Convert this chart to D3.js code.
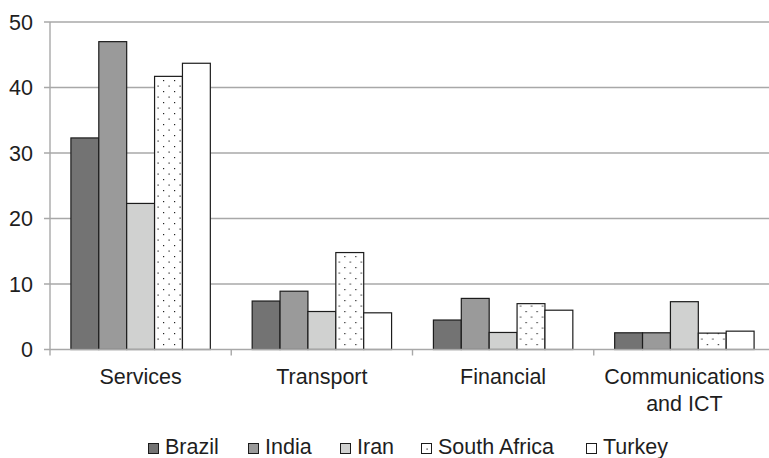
<!DOCTYPE html>
<html>
<head>
<meta charset="utf-8">
<script src="https://cdn.jsdelivr.net/npm/d3@7"></script>
<style>
  html, body { margin: 0; padding: 0; background: #fff; }
  svg { display: block; font-family: "Liberation Sans", Arial, sans-serif; }
</style>
</head>
<body>
<svg id="chart" width="769" height="458"></svg>
<script>
// Sector shares by country
const categories = ["Services", "Transport", "Financial", "Communications\nand ICT"];
const countries = ["Brazil", "India", "Iran", "South Africa", "Turkey"];
const brazil      = [32.3, 7.4, 4.5, 2.55];
const india       = [47.0, 8.9, 7.8, 2.55];
const iran        = [22.3, 5.8, 2.6, 7.3];
const southAfrica = [41.7, 14.8, 7.0, 2.5];
const turkey      = [43.7, 5.6, 6.0, 2.8];
const yTicks = [0, 10, 20, 30, 40, 50];

const seriesValues = [brazil, india, iran, southAfrica, turkey];
const fills = ["#737373", "#9a9a9a", "#d0d1d0", "url(#dots)", "#ffffff"];

const svg = d3.select("#chart");
const margin = { left: 50, right: -6, top: 22, bottom: 108.5 };
const W = 769, H = 458;
const x0 = margin.left, x1 = W - margin.right;
const yTop = margin.top, yBot = H - margin.bottom;

// Dotted fill used for South Africa
const defs = svg.append("defs");
const pat = defs.append("pattern")
  .attr("id", "dots").attr("patternUnits", "userSpaceOnUse")
  .attr("width", 11).attr("height", 11);
pat.append("rect").attr("width", 11).attr("height", 11).attr("fill", "#fff");
pat.append("rect").attr("x", 3).attr("y", 3).attr("width", 1.2).attr("height", 1.2).attr("fill", "#222");
pat.append("rect").attr("x", 8.5).attr("y", 8.5).attr("width", 1.2).attr("height", 1.2).attr("fill", "#222");

const y = d3.scaleLinear().domain([0, 50]).range([yBot, yTop]);
const xCat = d3.scaleBand().domain(d3.range(categories.length)).range([x0, x1])
  .paddingInner(0).paddingOuter(0);
// Gap between clusters is 1.5 bar widths
const barW = xCat.bandwidth() / (countries.length + 1.5);
const xSer = d3.scaleBand().domain(d3.range(countries.length))
  .range([0.75 * barW, xCat.bandwidth() - 0.75 * barW]).padding(0);

const gridColor = "#a8a8a8";

// Horizontal gridlines with left ticks
svg.append("g").selectAll("line").data(yTicks.filter(d => d > 0)).join("line")
  .attr("x1", x0 - 6).attr("x2", W)
  .attr("y1", d => y(d)).attr("y2", d => y(d))
  .attr("stroke", gridColor).attr("stroke-width", 1.4);

// Vertical axis line
svg.append("line")
  .attr("x1", x0).attr("x2", x0).attr("y1", yTop).attr("y2", yBot + 6)
  .attr("stroke", gridColor).attr("stroke-width", 1.4);

// Y tick labels
svg.append("g").selectAll("text").data(yTicks).join("text")
  .attr("x", 33).attr("y", d => y(d) + 7.5)
  .attr("text-anchor", "end").attr("font-size", 21.5).attr("fill", "#1e1e1e")
  .text(d => d);

// Bars
const groups = svg.append("g").selectAll("g").data(categories).join("g")
  .attr("transform", (d, i) => `translate(${xCat(i)},0)`);
groups.selectAll("rect").data((d, ci) => seriesValues.map((s, si) => ({ si, v: s[ci] })))
  .join("rect")
  .attr("x", d => xSer(d.si))
  .attr("width", xSer.bandwidth())
  .attr("y", d => y(d.v))
  .attr("height", d => y(0) - y(d.v))
  .attr("fill", d => fills[d.si])
  .attr("stroke", "#1c1c1c").attr("stroke-width", 1.2);

// Baseline and category ticks
svg.append("line")
  .attr("x1", x0 - 6).attr("x2", W).attr("y1", y(0)).attr("y2", y(0))
  .attr("stroke", gridColor).attr("stroke-width", 1.4);
svg.append("g").selectAll("line").data(d3.range(1, categories.length)).join("line")
  .attr("x1", i => xCat(i)).attr("x2", i => xCat(i))
  .attr("y1", y(0)).attr("y2", y(0) + 6)
  .attr("stroke", gridColor).attr("stroke-width", 1.4);

// Category labels
const catText = svg.append("g").selectAll("text").data(categories).join("text")
  .attr("x", (d, i) => xCat(i) + xCat.bandwidth() / 2)
  .attr("y", 384)
  .attr("text-anchor", "middle").attr("font-size", 21.5).attr("fill", "#1e1e1e");
catText.each(function(d) {
  const t = d3.select(this);
  d.split("\n").forEach((line, k) => {
    t.append("tspan").attr("x", t.attr("x")).attr("dy", k === 0 ? 0 : 27).text(line);
  });
});

// Legend: swatch positions along the bottom row
const legendX = [148, 248, 340, 421, 586];
const legend = svg.append("g");
countries.forEach((c, i) => {
  const lx = legendX[i];
  legend.append("rect")
    .attr("x", lx + 0.5).attr("y", 443.5).attr("width", 10).attr("height", 10)
    .attr("fill", fills[i]).attr("stroke", "#1c1c1c").attr("stroke-width", 1);
  legend.append("text")
    .attr("x", lx + 17).attr("y", 454)
    .attr("font-size", 21.5).attr("fill", "#1e1e1e").text(c);
});
</script>
</body>
</html>
